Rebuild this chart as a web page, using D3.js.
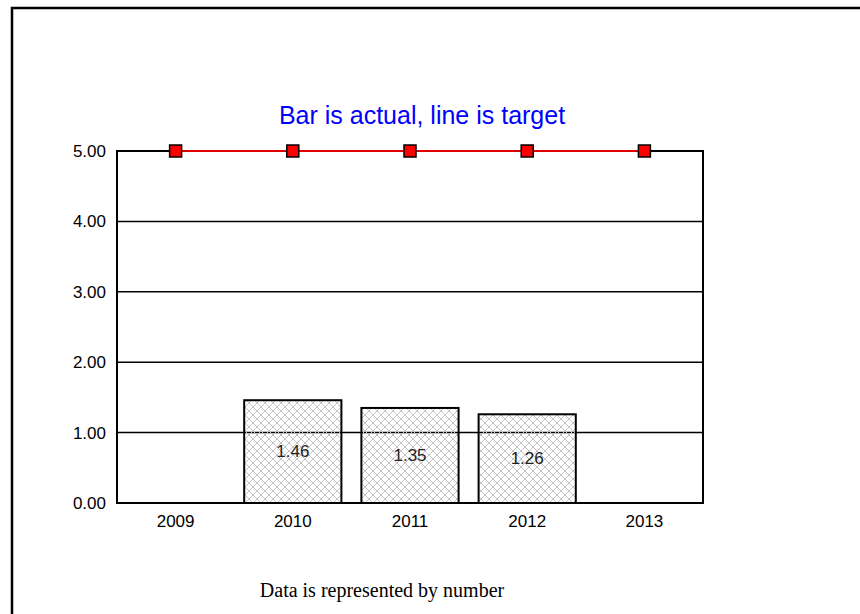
<!DOCTYPE html>
<html>
<head>
<meta charset="utf-8">
<script src="https://cdn.jsdelivr.net/npm/d3@7"></script>
<style>
  body { margin: 0; background: #fff; }
  svg { display: block; }
</style>
</head>
<body>
<div id="chart"></div>
<script>
var years = ["2009", "2010", "2011", "2012", "2013"];
var actual = [null, 1.46, 1.35, 1.26, null];
var target = [5, 5, 5, 5, 5];
var yTicks = [0, 1, 2, 3, 4, 5];

var W = 860, H = 614;
var margin = {top: 151, right: 157, bottom: 111, left: 117},
    width = W - margin.left - margin.right,
    height = H - margin.top - margin.bottom;

var svg = d3.select("#chart").append("svg")
    .attr("width", W)
    .attr("height", H);

// pattern for the bars
var defs = svg.append("defs");
var pat = defs.append("pattern")
    .attr("id", "hatch")
    .attr("patternUnits", "userSpaceOnUse")
    .attr("width", 8).attr("height", 8);
pat.append("path")
    .attr("d", "M0,0L8,8M8,0L0,8M-1,7L1,9M7,-1L9,1M-1,1L1,-1M7,9L9,7")
    .attr("stroke", "#c4c4c4")
    .attr("stroke-width", 1)
    .attr("fill", "none");

// outer frame (cut off at right and bottom)
svg.append("rect")
    .attr("x", 12).attr("y", 8)
    .attr("width", W + 20).attr("height", H + 20)
    .attr("fill", "none")
    .attr("stroke", "#000")
    .attr("stroke-width", 2.5);

var g = svg.append("g")
    .attr("transform", "translate(" + margin.left + "," + margin.top + ")");

var x = d3.scaleBand()
    .domain(years)
    .range([0, width]);

var y = d3.scaleLinear()
    .domain([0, 5])
    .range([height, 0]);

// gridlines
g.append("g")
  .selectAll("line")
  .data(yTicks.slice(1, -1))
  .enter().append("line")
    .attr("x1", 0).attr("x2", width)
    .attr("y1", function(d) { return y(d); })
    .attr("y2", function(d) { return y(d); })
    .attr("stroke", "#000")
    .attr("stroke-width", 1.5);

// bars
var barData = years.map(function(d, i) { return {year: d, v: actual[i]}; })
    .filter(function(d) { return d.v != null; });
var pad = 10;

g.append("g")
  .selectAll("rect")
  .data(barData)
  .enter().append("rect")
    .attr("x", function(d) { return x(d.year) + pad; })
    .attr("y", function(d) { return y(d.v); })
    .attr("width", x.bandwidth() - 2 * pad)
    .attr("height", function(d) { return height - y(d.v); })
    .attr("fill", "url(#hatch)")
    .attr("stroke", "#000")
    .attr("stroke-width", 2);

g.append("g")
  .selectAll("text")
  .data(barData)
  .enter().append("text")
    .attr("x", function(d) { return x(d.year) + x.bandwidth() / 2; })
    .attr("y", function(d) { return (y(d.v) + height) / 2; })
    .attr("text-anchor", "middle")
    .attr("dominant-baseline", "central")
    .style("font-family", "Liberation Sans, Arial, sans-serif")
    .style("font-size", "17px")
    .attr("fill", "#222")
    .text(function(d) { return d.v.toFixed(2); });

// plot frame
g.append("rect")
    .attr("width", width).attr("height", height)
    .attr("fill", "none")
    .attr("stroke", "#000")
    .attr("stroke-width", 2);

// target line
var line = d3.line()
    .x(function(d, i) { return x(years[i]) + x.bandwidth() / 2; })
    .y(function(d) { return y(d); });

g.append("path")
    .datum(target)
    .attr("d", line)
    .attr("fill", "none")
    .attr("stroke", "#e00000")
    .attr("stroke-width", 2);

g.append("g")
  .selectAll("rect")
  .data(target)
  .enter().append("rect")
    .attr("x", function(d, i) { return x(years[i]) + x.bandwidth() / 2 - 6; })
    .attr("y", function(d) { return y(d) - 6; })
    .attr("width", 12).attr("height", 12)
    .attr("fill", "#ff0000")
    .attr("stroke", "#000")
    .attr("stroke-width", 1.5);

// axes labels
var yAxis = d3.axisLeft(y)
    .tickValues(yTicks)
    .tickSize(0)
    .tickPadding(11)
    .tickFormat(d3.format(".2f"));
var ya = g.append("g").call(yAxis);
ya.select(".domain").remove();
ya.selectAll("text")
    .style("font-family", "Liberation Sans, Arial, sans-serif")
    .style("font-size", "17px")
    .attr("fill", "#000");

var xAxis = d3.axisBottom(x).tickSize(0).tickPadding(12);
var xa = g.append("g")
    .attr("transform", "translate(0," + height + ")")
    .call(xAxis);
xa.select(".domain").remove();
xa.selectAll("text")
    .style("font-family", "Liberation Sans, Arial, sans-serif")
    .style("font-size", "17px")
    .attr("fill", "#000");

// title
svg.append("text")
    .attr("x", 422)
    .attr("y", 124)
    .attr("text-anchor", "middle")
    .style("font-family", "Liberation Sans, Arial, sans-serif")
    .style("font-size", "25px")
    .attr("fill", "#0000ff")
    .text("Bar is actual, line is target");

// footer
svg.append("text")
    .attr("x", 382)
    .attr("y", 597)
    .attr("text-anchor", "middle")
    .style("font-family", "Liberation Serif, Times New Roman, serif")
    .style("font-size", "20px")
    .attr("fill", "#000")
    .text("Data is represented by number");
</script>
</body>
</html>
